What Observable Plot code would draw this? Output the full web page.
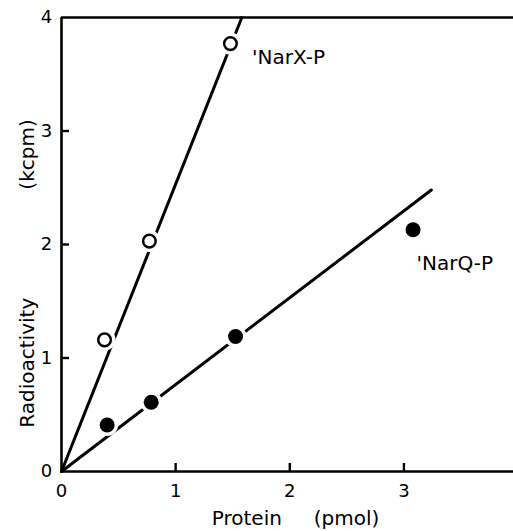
<!DOCTYPE html>
<html>
<head>
<meta charset="utf-8">
<script src="https://cdn.jsdelivr.net/npm/d3@7"></script>
<script src="https://cdn.jsdelivr.net/npm/@observablehq/plot@0.6"></script>
<style>
  html, body { margin: 0; padding: 0; background: #fff; }
  #chart svg { display: block; }
</style>
</head>
<body>
<div id="chart"></div>
<script>
// Data
const narXProtein = [0.377, 0.77, 1.48];
const narXActivity = [1.16, 2.03, 3.77];
const narQProtein = [0.40, 0.786, 1.525, 3.08];
const narQActivity = [0.41, 0.61, 1.19, 2.13];
// fitted lines (endpoints as drawn)
const narXFitX = [0, 1.58];
const narXFitY = [0, 4];
const narQFitX = [0, 3.24];
const narQFitY = [0, 2.48];
// tick labels
const xTicks = [0, 1, 2, 3];
const yTicks = [0, 1, 2, 3, 4];
const seriesNames = ["'NarX-P", "'NarQ-P"];
const seriesLabelX = [1.67, 3.11];
const seriesLabelY = [3.65, 1.835];
const xTitle = "Protein" + "\u00a0".repeat(5) + "(pmol)";
const yTitle = "Radioactivity" + "\u00a0".repeat(17) + "(kcpm)";

const narX = narXProtein.map((x, i) => ({x, y: narXActivity[i]}));
const narQ = narQProtein.map((x, i) => ({x, y: narQActivity[i]}));
const narXFit = narXFitX.map((x, i) => ({x, y: narXFitY[i]}));
const narQFit = narQFitX.map((x, i) => ({x, y: narQFitY[i]}));
const labels = seriesNames.map((t, i) => ({t, x: seriesLabelX[i], y: seriesLabelY[i]}));
const allPts = narX.concat(narQ);

const font = "DejaVu Sans";
const xDomain = [0, 3.96];
const yDomain = [0, 4];
const W = 513, H = 531, mL = 61, mR = 0, mT = 17, mB = 60;
const tickPx = 8;
// inward tick length converted into data units
const xTickLen = tickPx * (yDomain[1] - yDomain[0]) / (H - mT - mB);
const yTickLen = tickPx * (xDomain[1] - xDomain[0]) / (W - mL - mR);

const chart = Plot.plot({
  width: W,
  height: H,
  marginLeft: mL,
  marginRight: mR,
  marginTop: mT,
  marginBottom: mB,
  style: {fontFamily: font, color: "#000", background: "#fff", overflow: "visible"},
  x: {domain: xDomain, axis: null},
  y: {domain: yDomain, axis: null},
  marks: [
    Plot.ruleY([0, 4], {stroke: "#000", strokeWidth: 2.6}),
    Plot.ruleX([0], {stroke: "#000", strokeWidth: 2.6}),
    Plot.ruleX(xTicks.filter(d => d > 0), {x: d => d, y1: 0, y2: xTickLen, stroke: "#000", strokeWidth: 2.4}),
    Plot.ruleY(yTicks.filter(d => d > 0 && d < 4), {y: d => d, x1: 0, x2: yTickLen, stroke: "#000", strokeWidth: 2.4}),
    Plot.text(xTicks, {x: d => d, y: 0, dy: 20, text: d => String(d), fontSize: 18, fill: "#000"}),
    Plot.text(yTicks, {x: 0, y: d => d, dx: -15, text: d => String(d), fontSize: 18, fill: "#000"}),
    Plot.line(narXFit, {x: "x", y: "y", stroke: "#000", strokeWidth: 3}),
    Plot.line(narQFit, {x: "x", y: "y", stroke: "#000", strokeWidth: 3}),
    Plot.dot(allPts, {x: "x", y: "y", r: 11, fill: "#fff", stroke: "none"}),
    Plot.dot(narX, {x: "x", y: "y", r: 6.3, fill: "#fff", stroke: "#000", strokeWidth: 2.5}),
    Plot.dot(narQ, {x: "x", y: "y", r: 7.5, fill: "#000", stroke: "none"}),
    Plot.text(labels, {x: "x", y: "y", text: "t", textAnchor: "start", fontSize: 20, fill: "#000"}),
    Plot.text([xTitle], {frameAnchor: "bottom", textAnchor: "middle", dx: 8, dy: 53, fontSize: 20, fill: "#000"}),
    Plot.text([yTitle], {frameAnchor: "left", textAnchor: "middle", dx: -34, dy: 29, rotate: -90, fontSize: 20, fill: "#000"})
  ]
});
document.getElementById("chart").appendChild(chart);
</script>
</body>
</html>
